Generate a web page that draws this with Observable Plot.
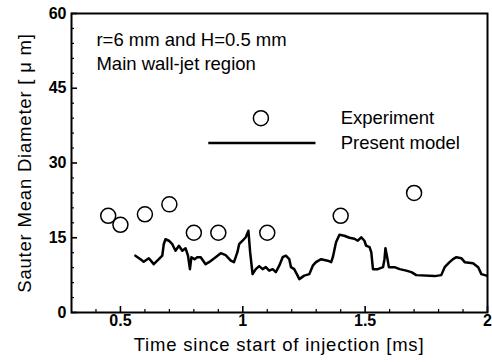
<!DOCTYPE html>
<html><head><meta charset="utf-8">
<script src="https://cdn.jsdelivr.net/npm/d3@7"></script>
<script src="https://cdn.jsdelivr.net/npm/@observablehq/plot@0.6"></script>
<style>
body{margin:0;background:#fff}
#chart svg{font-family:"Liberation Sans",Arial,Helvetica,sans-serif;background:#fff}
</style>
</head><body><div id="chart"></div>
<script>
// Experiment (circles)
const expTime = [0.45, 0.50, 0.60, 0.70, 0.80, 0.90, 1.10, 1.40, 1.70];
const expSMD  = [19.4, 17.6, 19.7, 21.7, 16.0, 16.0, 16.0, 19.4, 24.0];

// Present model (line)
const modelTime = [0.561,0.582,0.595,0.616,0.636,0.657,0.671,0.677,0.684,0.698,0.712,0.725,0.739,0.753,0.766,0.776,0.784,0.790,0.803,0.814,
  0.828,0.848,0.862,0.889,0.910,0.930,0.951,0.964,0.978,0.985,0.999,1.012,1.023,1.030,1.040,1.053,1.067,1.081,1.094,1.108,
  1.122,1.135,1.149,1.163,1.176,1.190,1.197,1.210,1.224,1.231,1.251,1.272,1.286,1.299,1.320,1.347,1.361,1.368,1.381,1.395,
  1.415,1.436,1.456,1.470,1.484,1.497,1.504,1.518,1.525,1.532,1.552,1.573,1.579,1.583,1.590,1.597,1.620,1.641,1.668,1.689,
  1.709,1.784,1.811,1.825,1.845,1.859,1.873,1.893,1.907,1.941,1.962,1.975,1.996];
const modelSMD = [11.4,10.7,10.2,10.9,9.7,10.7,11.4,13.7,14.7,14.4,13.7,12.4,13.4,12.4,12.9,11.4,8.7,11.1,10.7,11.1,
  11.1,9.7,10.1,11.1,11.9,11.5,10.4,10.1,12.1,13.7,14.4,15.1,16.4,12.1,7.7,8.7,9.3,8.7,9.1,8.4,
  8.7,8.1,9.4,11.1,11.4,10.7,9.1,8.7,7.4,6.7,7.4,7.7,9.4,10.1,10.7,10.4,10.1,11.1,14.1,15.6,
  15.4,15.0,14.8,14.4,15.1,14.4,13.4,13.1,12.1,8.7,8.7,9.1,10.7,12.9,11.1,9.1,9.1,8.7,8.4,8.1,
  7.5,7.3,7.5,9.1,10.1,10.7,11.1,10.9,10.1,9.9,9.1,7.7,7.4];

const xTicks = [0.5, 1, 1.5, 2];
const yTicks = [0, 15, 30, 45, 60];
const xMinor = [0.4,0.6,0.7,0.8,0.9,1.1,1.2,1.3,1.4,1.6,1.7,1.8,1.9];
const yMinor = [3,6,9,12,18,21,24,27,33,36,39,42,48,51,54,57];

const titleLines = ["r=6 mm and H=0.5 mm", "Main wall-jet region"];
const legendLabels = ["Experiment", "Present model"];
const xLabel = "Time since start of injection [ms]";
const yLabel = "Sauter Mean Diameter [ \u03bc m]";

const expData = expTime.map((t, i) => ({t, d: expSMD[i]}));
const modelData = modelTime.map((t, i) => ({t, d: modelSMD[i]}));

const X0 = 0.3, pxPerX = 416 / 1.7;
const tk = px => px / pxPerX;   // tick length in x units
const tky = px => px / 5;       // tick length in y units

const plot = Plot.plot({
  width: 492, height: 362,
  marginLeft: 71, marginRight: 5, marginTop: 13, marginBottom: 50,
  x: {domain: [0.3, 2]},
  y: {domain: [0, 60]},
  marks: [
    Plot.ruleX(xMinor, {x: d => d, y1: 0, y2: tky(3), stroke: "black", strokeWidth: 1.2}),
    Plot.ruleX(xTicks, {x: d => d, y1: 0, y2: tky(6), stroke: "black", strokeWidth: 1.6}),
    Plot.ruleY(yMinor, {y: d => d, x1: X0, x2: X0 + tk(3), stroke: "black", strokeWidth: 1.2}),
    Plot.ruleY(yTicks, {y: d => d, x1: X0, x2: X0 + tk(6), stroke: "black", strokeWidth: 1.6}),
    Plot.axisX({ticks: xTicks, tickSize: 0, tickPadding: 2, tickFormat: d => String(d), fontSize: 16, fontWeight: "bold", label: null}),
    Plot.axisY({ticks: yTicks, tickSize: 0, tickPadding: 5, tickFormat: d => String(d), fontSize: 16, fontWeight: "bold", label: null}),
    Plot.line(modelData, {x: "t", y: "d", stroke: "black", strokeWidth: 2.5, strokeLinejoin: "round"}),
    Plot.dot(expData, {x: "t", y: "d", r: 7.5, stroke: "black", strokeWidth: 1.5, fill: "white"}),
    // annotation
    Plot.text(titleLines, {x: 0.402, y: (d, i) => [53.4, 48.6][i], text: d => d, textAnchor: "start", lineAnchor: "bottom", fontSize: 18.5, fill: "black"}),
    // legend
    Plot.dot([legendLabels[0]], {x: 1.074, y: 39, r: 7.5, stroke: "black", strokeWidth: 1.5, fill: "white"}),
    Plot.ruleY([34], {x1: 0.861, x2: 1.299, stroke: "black", strokeWidth: 2.5}),
    Plot.text(legendLabels, {x: 1.40, y: (d, i) => [39, 34][i], text: d => d, textAnchor: "start", fontSize: 18.5, fill: "black"}),
    Plot.frame({stroke: "black", strokeWidth: 2})
  ]
});

const svg = d3.select(plot);
svg.append("text").text(xLabel)
  .attr("x", 279).attr("y", 351).attr("text-anchor", "middle")
  .attr("font-size", 18.5).attr("letter-spacing", "0.8px").attr("fill", "black");
svg.append("text").text(yLabel)
  .attr("transform", "translate(31,163) rotate(-90)").attr("text-anchor", "middle")
  .attr("font-size", 18.5).attr("letter-spacing", "0.8px").attr("fill", "black");

document.getElementById("chart").append(plot);
</script>
</body></html>
